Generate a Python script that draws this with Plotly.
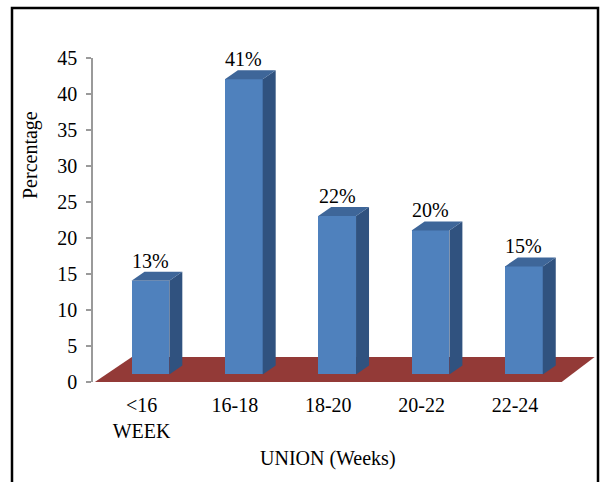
import plotly.graph_objects as go

# Gestational age at union, share of cases per band
categories = ["<16<br>WEEK", "16-18", "18-20", "20-22", "22-24"]
percentages = [13, 41, 22, 20, 15]
label_texts = ["13%", "41%", "22%", "20%", "15%"]
y_ticks = [0, 5, 10, 15, 20, 25, 30, 35, 40, 45]

# Figure geometry (pixels)
W, H = 602, 482
M_L, M_R, M_T, M_B = 93, 3, 58, 100
X_MIN, X_MAX = -0.52, 4.9
Y_MIN, Y_MAX = 0, 45
PLOT_W = W - M_L - M_R
PLOT_H = H - M_T - M_B
PX_X = PLOT_W / (X_MAX - X_MIN)
PX_Y = PLOT_H / (Y_MAX - Y_MIN)

# Pseudo-3D depth of the chart floor and of the bars
FLOOR_DX_LEFT = 37 / PX_X
FLOOR_DX_RIGHT = 33 / PX_X
FLOOR_DY = 25 / PX_Y
BAR_WIDTH = 0.405
BAR_DX = 0.095          # front face shifted back into the floor
BAR_BASE = 1.05
SIDE_DX = 13 / PX_X     # visible depth of each bar
SIDE_DY = 9 / PX_Y

FRONT = "#4F81BD"
SIDE = "#30527F"
TOP = "#3E6699"
FLOOR = "#933A37"
FONT = "Liberation Serif"

n = len(percentages)
xs = [i + BAR_DX for i in range(n)]

fig = go.Figure()

# front faces
fig.add_trace(go.Bar(
    x=xs, y=percentages, base=[BAR_BASE] * n, width=BAR_WIDTH,
    marker=dict(color=FRONT, line=dict(width=0)),
    hoverinfo="skip", showlegend=False,
))

# side and top faces, built from the same values
side_x, side_y, top_x, top_y = [], [], [], []
for x, v in zip(xs, percentages):
    xl, xr = x - BAR_WIDTH / 2, x + BAR_WIDTH / 2
    b, t = BAR_BASE, BAR_BASE + v
    side_x += [xr, xr + SIDE_DX, xr + SIDE_DX, xr, xr, None]
    side_y += [b, b + SIDE_DY, t + SIDE_DY, t, b, None]
    top_x += [xl, xr, xr + SIDE_DX, xl + SIDE_DX, xl, None]
    top_y += [t, t, t + SIDE_DY, t + SIDE_DY, t, None]

fig.add_trace(go.Scatter(
    x=side_x, y=side_y, mode="lines", fill="toself", fillcolor=SIDE,
    line=dict(width=0, color=SIDE), hoverinfo="skip", showlegend=False,
))
fig.add_trace(go.Scatter(
    x=top_x, y=top_y, mode="lines", fill="toself", fillcolor=TOP,
    line=dict(width=0, color=TOP), hoverinfo="skip", showlegend=False,
))

# floor under the bars
x0, x1 = -0.5, n - 0.5
floor_path = (f"M {x0},0 L {x1},0 L {x1 + FLOOR_DX_RIGHT},{FLOOR_DY} "
              f"L {x0 + FLOOR_DX_LEFT},{FLOOR_DY} Z")
shapes = [dict(type="path", path=floor_path, xref="x", yref="y",
               fillcolor=FLOOR, line=dict(width=0), layer="below")]


def px_to_paper_x(px):
    return (px - M_L) / PLOT_W


def px_to_paper_y(py):
    return (H - M_B - py) / PLOT_H


# outer frame
shapes.append(dict(
    type="rect", xref="paper", yref="paper",
    x0=px_to_paper_x(12), x1=px_to_paper_x(598),
    y0=px_to_paper_y(495), y1=px_to_paper_y(8),
    line=dict(color="black", width=2.5), fillcolor="rgba(0,0,0,0)",
    layer="above",
))

annotations = []
for x, v, txt in zip(xs, percentages, label_texts):
    annotations.append(dict(
        x=x, y=BAR_BASE + v + SIDE_DY, xref="x", yref="y", text=txt,
        showarrow=False, yanchor="middle", yshift=11,
        font=dict(family=FONT, size=20, color="black"),
    ))

annotations.append(dict(
    x=2, y=px_to_paper_y(458), xref="x", yref="paper",
    text="UNION (Weeks)", showarrow=False, xanchor="center", yanchor="middle",
    font=dict(family=FONT, size=20, color="black"),
))
annotations.append(dict(
    x=px_to_paper_x(30), y=px_to_paper_y(155), xref="paper", yref="paper",
    text="Percentage", textangle=-90, showarrow=False,
    xanchor="center", yanchor="middle",
    font=dict(family=FONT, size=20, color="black"),
))

fig.update_layout(
    width=W, height=H,
    margin=dict(l=M_L, r=M_R, t=M_T, b=M_B, autoexpand=False),
    paper_bgcolor="white", plot_bgcolor="white",
    shapes=shapes, annotations=annotations,
    bargap=0, showlegend=False,
    xaxis=dict(
        range=[X_MIN, X_MAX], tickmode="array",
        tickvals=list(range(n)), ticktext=categories,
        showgrid=False, zeroline=False, showline=False, ticks="",
        ticklabelstandoff=9,
        tickfont=dict(family=FONT, size=20, color="black"),
    ),
    yaxis=dict(
        range=[Y_MIN, Y_MAX], tickmode="array", tickvals=y_ticks,
        showgrid=False, zeroline=False,
        showline=True, linecolor="#9A9A9A", linewidth=1.5,
        ticks="outside", ticklen=5, tickcolor="#9A9A9A", tickwidth=1.5,
        ticklabelstandoff=5,
        tickfont=dict(family=FONT, size=20, color="black"),
    ),
)

fig.write_html("out.html")
